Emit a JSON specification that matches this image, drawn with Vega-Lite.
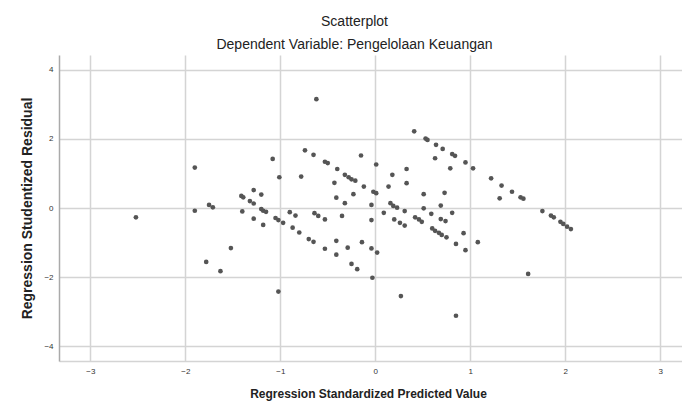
{
  "$schema": "https://vega.github.io/schema/vega-lite/v6.json",
  "width": 623,
  "height": 306,
  "autosize": {"type": "none"},
  "padding": {"left": 59, "top": 55, "right": 0, "bottom": 44},
  "background": "white",
  "title": {
    "text": "Scatterplot",
    "subtitle": "Dependent Variable: Pengelolaan Keuangan",
    "anchor": "middle",
    "dx": -16,
    "offset": 3,
    "font": "Liberation Sans",
    "fontSize": 14,
    "fontWeight": "normal",
    "color": "#222",
    "subtitleFont": "Liberation Sans",
    "subtitleFontSize": 14,
    "subtitleColor": "#222",
    "subtitlePadding": 9
  },
  "data": {
    "values": [
      {"x": -2.52, "y": -0.27}, {"x": -1.90, "y": 1.17}, {"x": -1.90, "y": -0.08}, {"x": -1.75, "y": 0.09},
      {"x": -1.71, "y": 0.02}, {"x": -1.78, "y": -1.56}, {"x": -1.63, "y": -1.83}, {"x": -1.52, "y": -1.16},
      {"x": -1.41, "y": 0.35}, {"x": -1.39, "y": 0.31}, {"x": -1.40, "y": -0.10}, {"x": -1.28, "y": 0.52},
      {"x": -1.20, "y": 0.39}, {"x": -1.32, "y": 0.20}, {"x": -1.28, "y": 0.13}, {"x": -1.28, "y": -0.31},
      {"x": -1.20, "y": -0.03}, {"x": -1.18, "y": -0.08}, {"x": -1.15, "y": -0.11}, {"x": -1.18, "y": -0.49},
      {"x": -1.08, "y": 1.42}, {"x": -1.01, "y": 0.89}, {"x": -1.05, "y": -0.29}, {"x": -1.02, "y": -0.35},
      {"x": -0.97, "y": -0.43}, {"x": -1.02, "y": -2.42}, {"x": -0.90, "y": -0.12}, {"x": -0.84, "y": -0.22},
      {"x": -0.87, "y": -0.57}, {"x": -0.80, "y": -0.71}, {"x": -0.78, "y": 0.91}, {"x": -0.74, "y": 1.67},
      {"x": -0.65, "y": 1.54}, {"x": -0.62, "y": 3.15}, {"x": -0.53, "y": 1.34}, {"x": -0.50, "y": 1.30},
      {"x": -0.40, "y": 1.13}, {"x": -0.32, "y": 0.96}, {"x": -0.28, "y": 0.89}, {"x": -0.25, "y": 0.83},
      {"x": -0.21, "y": 0.79}, {"x": -0.43, "y": 0.73}, {"x": -0.12, "y": 0.62}, {"x": -0.15, "y": 1.52},
      {"x": 0.01, "y": 1.26}, {"x": -0.02, "y": 0.47}, {"x": 0.01, "y": 0.43}, {"x": -0.23, "y": 0.40},
      {"x": -0.41, "y": 0.30}, {"x": -0.32, "y": 0.14}, {"x": -0.04, "y": 0.09}, {"x": -0.64, "y": -0.15},
      {"x": -0.60, "y": -0.23}, {"x": -0.53, "y": -0.33}, {"x": -0.35, "y": -0.23}, {"x": -0.04, "y": -0.35},
      {"x": 0.09, "y": -0.14}, {"x": -0.70, "y": -0.90}, {"x": -0.65, "y": -0.98}, {"x": -0.53, "y": -1.18},
      {"x": -0.41, "y": -0.95}, {"x": -0.41, "y": -1.35}, {"x": -0.29, "y": -1.15}, {"x": -0.14, "y": -0.99},
      {"x": -0.04, "y": -1.17}, {"x": 0.02, "y": -1.29}, {"x": -0.25, "y": -1.62}, {"x": -0.19, "y": -1.77},
      {"x": -0.03, "y": -2.02}, {"x": 0.14, "y": 0.62}, {"x": 0.18, "y": 0.96}, {"x": 0.33, "y": 1.13},
      {"x": 0.33, "y": 0.72}, {"x": 0.16, "y": 0.14}, {"x": 0.19, "y": 0.06}, {"x": 0.23, "y": 0.01},
      {"x": 0.31, "y": -0.09}, {"x": 0.20, "y": -0.33}, {"x": 0.26, "y": -0.43}, {"x": 0.31, "y": -0.51},
      {"x": 0.27, "y": -2.55}, {"x": 0.41, "y": 2.22}, {"x": 0.53, "y": 2.01}, {"x": 0.55, "y": 1.97},
      {"x": 0.64, "y": 1.83}, {"x": 0.71, "y": 1.71}, {"x": 0.63, "y": 1.44}, {"x": 0.81, "y": 1.56},
      {"x": 0.84, "y": 1.51}, {"x": 0.79, "y": 1.15}, {"x": 0.95, "y": 1.32}, {"x": 1.03, "y": 1.15},
      {"x": 0.51, "y": 0.40}, {"x": 0.51, "y": -0.01}, {"x": 0.59, "y": -0.17}, {"x": 0.69, "y": 0.07},
      {"x": 0.73, "y": 0.44}, {"x": 0.81, "y": -0.14}, {"x": 0.69, "y": -0.32}, {"x": 0.74, "y": -0.38},
      {"x": 0.42, "y": -0.27}, {"x": 0.46, "y": -0.33}, {"x": 0.49, "y": -0.40}, {"x": 0.60, "y": -0.59},
      {"x": 0.63, "y": -0.66}, {"x": 0.67, "y": -0.72}, {"x": 0.70, "y": -0.78}, {"x": 0.75, "y": -0.85},
      {"x": 0.85, "y": -1.04}, {"x": 0.93, "y": -0.73}, {"x": 0.95, "y": -1.22}, {"x": 1.08, "y": -0.99},
      {"x": 0.85, "y": -3.12}, {"x": 1.22, "y": 0.86}, {"x": 1.33, "y": 0.65}, {"x": 1.31, "y": 0.28},
      {"x": 1.44, "y": 0.47}, {"x": 1.53, "y": 0.31}, {"x": 1.56, "y": 0.27}, {"x": 1.61, "y": -1.91},
      {"x": 1.76, "y": -0.09}, {"x": 1.85, "y": -0.22}, {"x": 1.88, "y": -0.27}, {"x": 1.95, "y": -0.40},
      {"x": 1.98, "y": -0.46}, {"x": 2.02, "y": -0.54}, {"x": 2.06, "y": -0.61}
    ]
  },
  "mark": {"type": "circle", "size": 22, "color": "#555555", "opacity": 1},
  "encoding": {
    "x": {
      "field": "x",
      "type": "quantitative",
      "scale": {"domain": [-3.33, 3.23], "nice": false, "zero": false},
      "axis": {
        "title": "Regression Standardized Predicted Value",
        "values": [-3, -2, -1, 0, 1, 2, 3],
        "grid": true,
        "gridColor": "#d4d4d4",
        "gridWidth": 1.5,
        "ticks": false,
        "domain": true,
        "domainColor": "#d4d4d4",
        "domainWidth": 1.5,
        "labelFont": "Liberation Sans",
        "labelFontSize": 8,
        "labelColor": "#333",
        "labelPadding": 6,
        "titleFont": "Liberation Sans",
        "titleFontSize": 12,
        "titleFontWeight": "bold",
        "titleColor": "#222",
        "titlePadding": 13,
        "titleX": 309
      }
    },
    "y": {
      "field": "y",
      "type": "quantitative",
      "scale": {"domain": [-4.43, 4.43], "nice": false, "zero": false},
      "axis": {
        "title": "Regression Studentized Residual",
        "values": [-4, -2, 0, 2, 4],
        "grid": true,
        "gridColor": "#d4d4d4",
        "gridWidth": 1.5,
        "ticks": false,
        "domain": true,
        "domainColor": "#aaaaaa",
        "domainWidth": 1.5,
        "labelFont": "Liberation Sans",
        "labelFontSize": 8,
        "labelColor": "#333",
        "labelPadding": 6,
        "titleFont": "Liberation Sans",
        "titleFontSize": 14,
        "titleFontWeight": "bold",
        "titleColor": "#222",
        "titleX": -25
      }
    }
  },
  "config": {"view": {"stroke": null}}
}
